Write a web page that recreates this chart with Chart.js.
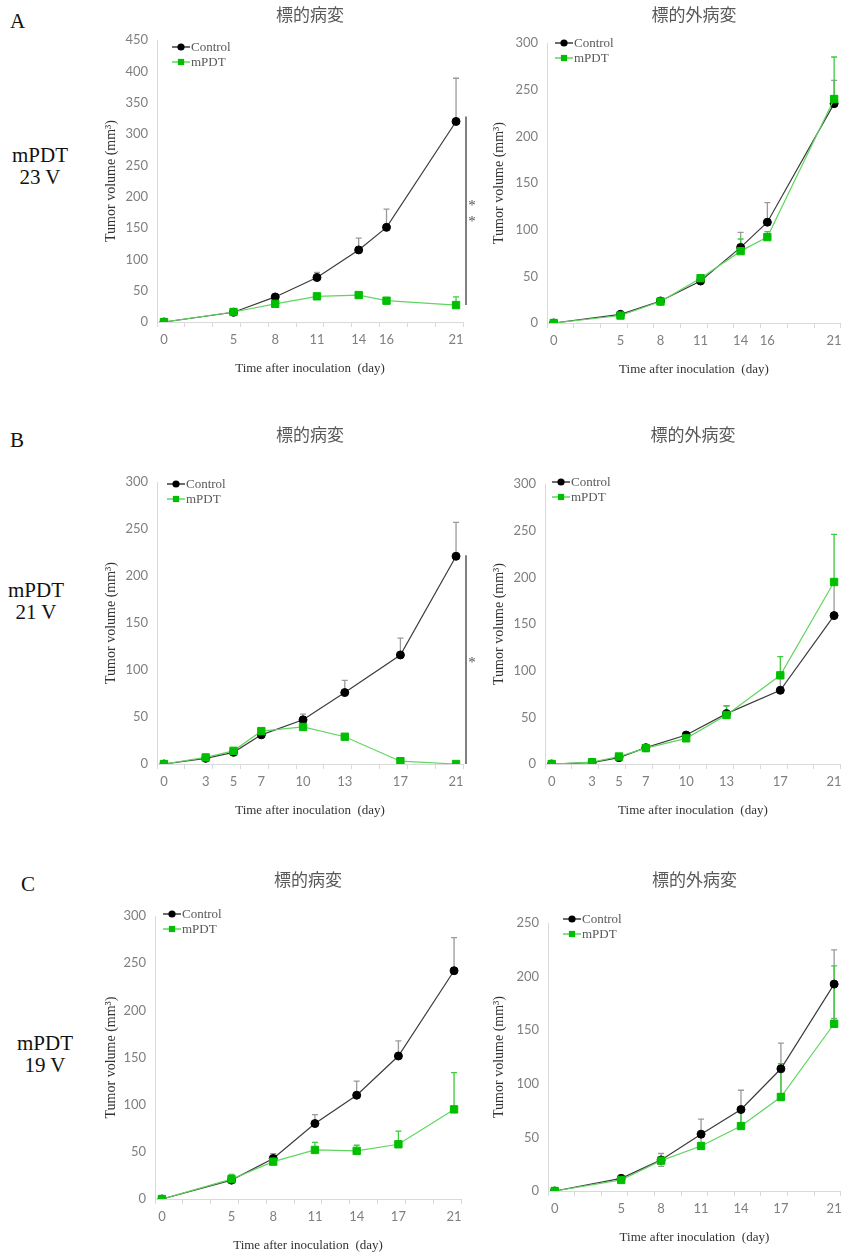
<!DOCTYPE html>
<html>
<head>
<meta charset="utf-8">
<script src="https://cdn.jsdelivr.net/npm/chart.js@4.4.0/dist/chart.umd.min.js"></script>
<style>
  body { margin: 0; width: 847px; height: 1255px; overflow: hidden; background: #fff; position: relative; font-family: "Liberation Serif", serif; }
  .box { position: absolute; }
  .lab { position: absolute; font-size: 21px; color: #111; text-align: center; line-height: 22px; }
</style>
</head>
<body>
<div class="lab" style="left:10px;top:10px;">A</div>
<div class="lab" style="left:4px;top:144px;width:72px;">mPDT<br>23 V</div>
<div class="lab" style="left:10px;top:429px;">B</div>
<div class="lab" style="left:0px;top:579px;width:72px;">mPDT<br>21 V</div>
<div class="lab" style="left:21px;top:873px;">C</div>
<div class="lab" style="left:9px;top:1032px;width:72px;">mPDT<br>19 V</div>

<script>
// x values (day) for each row
const daysA = [0, 5, 8, 11, 14, 16, 21];
const daysB = [0, 3, 5, 7, 10, 13, 17, 21];
const daysC = [0, 5, 8, 11, 14, 17, 21];

// row A, 23 V
const ctrlA1 = [0, 15.5, 40, 71, 115, 151, 320];
const ctrlA1Err = [0, 2, 3, 8, 19, 29, 69];
const mpdtA1 = [0, 16, 29, 41, 43, 34, 27];
const mpdtA1Err = [0, 0, 0, 0, 0, 0, 13];
const ctrlA2 = [0, 9.3, 23.6, 45, 81, 108, 235];
const ctrlA2Err = [0, 1, 1, 2, 16, 21, 25];
const mpdtA2 = [0, 8, 23, 48, 77, 92, 240];
const mpdtA2Err = [0, 1, 1, 2, 13, 6, 45];

// row B, 21 V
const ctrlB1 = [0, 6, 12.4, 31, 47, 76, 116, 221];
const ctrlB1Err = [0, 1, 1, 2, 6, 13, 18, 36];
const mpdtB1 = [0, 7, 14, 35, 39.4, 29, 3, 0];
const mpdtB1Err = [0, 1, 1, 1, 1, 1, 0.5, 0];
const ctrlB2 = [0, 1.5, 6.8, 17.5, 31, 54, 79, 159];
const ctrlB2Err = [0, 0.5, 1, 1.5, 2, 8, 18, 36];
const mpdtB2 = [0, 2, 8, 17, 27.5, 52.5, 95, 195];
const mpdtB2Err = [0, 0.5, 1, 1.5, 2, 10, 20, 51];

// row C, 19 V
const ctrlC1 = [0, 20, 43, 80, 110, 151.6, 242];
const ctrlC1Err = [0, 2, 5, 9.5, 15, 16, 35];
const mpdtC1 = [0, 21, 39.6, 52, 51, 58, 95];
const mpdtC1Err = [0, 5, 1, 8, 6, 14, 39];
const ctrlC2 = [0, 11.8, 29, 53, 76, 114, 193];
const ctrlC2Err = [0, 1.5, 6, 14, 18, 24, 32];
const mpdtC2 = [0, 10.3, 28.3, 42, 60.6, 87.7, 156];
const mpdtC2Err = [0, 1, 2, 3, 18, 31, 54];

// significance brackets (y range) and y axis maxima
const sigA1 = [27, 328];
const sigB1 = [0, 222];
const yMaxes = [450, 300, 300, 300, 300, 250];
const titles = ['標的病変', '標的外病変', '標的病変', '標的外病変', '標的病変', '標的外病変'];

const panels = [
  { days: daysA, ctrl: ctrlA1, ctrlErr: ctrlA1Err, mpdt: mpdtA1, mpdtErr: mpdtA1Err, sig: sigA1, sigText: '**' },
  { days: daysA, ctrl: ctrlA2, ctrlErr: ctrlA2Err, mpdt: mpdtA2, mpdtErr: mpdtA2Err },
  { days: daysB, ctrl: ctrlB1, ctrlErr: ctrlB1Err, mpdt: mpdtB1, mpdtErr: mpdtB1Err, sig: sigB1, sigText: '*' },
  { days: daysB, ctrl: ctrlB2, ctrlErr: ctrlB2Err, mpdt: mpdtB2, mpdtErr: mpdtB2Err },
  { days: daysC, ctrl: ctrlC1, ctrlErr: ctrlC1Err, mpdt: mpdtC1, mpdtErr: mpdtC1Err },
  { days: daysC, ctrl: ctrlC2, ctrlErr: ctrlC2Err, mpdt: mpdtC2, mpdtErr: mpdtC2Err, ctrlBoth: true }
];

// where each plot sits on the page (legX/legY: page position of the legend)
const layout = [
  { left: 90,  top: 0,   width: 390, areaTop: 40,  areaBottom: 322,  axisX: 157, padRight: 17, yPad: 13, legX: 172, legY: 47 },
  { left: 480, top: 0,   width: 367, areaTop: 43,  areaBottom: 323,  axisX: 547, padRight: 2,  yPad: 11, legX: 555, legY: 43 },
  { left: 90,  top: 420, width: 390, areaTop: 482, areaBottom: 764,  axisX: 157, padRight: 17, yPad: 13, legX: 167, legY: 484 },
  { left: 480, top: 420, width: 367, areaTop: 484, areaBottom: 764,  axisX: 545, padRight: 1,  yPad: 11, legX: 552, legY: 482 },
  { left: 90,  top: 865, width: 390, areaTop: 916, areaBottom: 1199, axisX: 155, padRight: 19, yPad: 13, legX: 163, legY: 914 },
  { left: 480, top: 865, width: 367, areaTop: 923, areaBottom: 1191, axisX: 548, padRight: 0,  yPad: 11, legX: 563, legY: 919 }
];

const X_AXIS_H = 63;

const errorBars = {
  id: 'errorBars',
  beforeDatasetsDraw(chart) {
    const { ctx, scales: { x, y } } = chart;
    chart.data.datasets.forEach(ds => {
      if (!ds.errors) return;
      ctx.save();
      ctx.strokeStyle = ds.errColor;
      ctx.lineWidth = 1.3;
      ds.data.forEach((pt, j) => {
        const e = ds.errors[j];
        if (!e) return;
        const px = x.getPixelForValue(pt.x);
        const top = y.getPixelForValue(pt.y + e);
        const bot = y.getPixelForValue(ds.errBoth ? pt.y - e : pt.y);
        ctx.beginPath();
        ctx.moveTo(px, top); ctx.lineTo(px, bot);
        ctx.moveTo(px - 3, top); ctx.lineTo(px + 3, top);
        if (ds.errBoth) { ctx.moveTo(px - 3, bot); ctx.lineTo(px + 3, bot); }
        ctx.stroke();
      });
      ctx.restore();
    });
  }
};

// vertical significance line to the right of the last day, asterisks stacked beside it
const sigBracket = {
  id: 'sigBracket',
  afterDatasetsDraw(chart, args, opts) {
    if (!opts.range) return;
    const { ctx, chartArea, scales: { y } } = chart;
    const bx = chartArea.right + 3;
    const y1 = y.getPixelForValue(opts.range[0]);
    const y2 = y.getPixelForValue(opts.range[1]);
    ctx.save();
    ctx.strokeStyle = '#808080';
    ctx.lineWidth = 2;
    ctx.beginPath(); ctx.moveTo(bx, y1); ctx.lineTo(bx, y2); ctx.stroke();
    ctx.font = '15px "Liberation Serif"';
    ctx.fillStyle = '#555';
    ctx.textAlign = 'center';
    ctx.textBaseline = 'middle';
    const chars = opts.text.split('');
    const mid = (y1 + y2) / 2;
    chars.forEach((ch, k) => {
      ctx.fillText(ch, bx + 6, mid + 3 + (k - (chars.length - 1) / 2) * 16);
    });
    ctx.restore();
  }
};

// legend drawn inside the plot, line + marker + name
const inlineLegend = {
  id: 'inlineLegend',
  afterDraw(chart, args, opts) {
    const { ctx } = chart;
    chart.data.datasets.forEach((ds, k) => {
      const x0 = opts.x, yy = opts.y + k * 15;
      ctx.save();
      ctx.strokeStyle = ds.borderColor;
      ctx.lineWidth = 1.5;
      ctx.beginPath(); ctx.moveTo(x0, yy); ctx.lineTo(x0 + 18, yy); ctx.stroke();
      ctx.fillStyle = ds.pointBackgroundColor;
      ctx.strokeStyle = ds.pointBackgroundColor;
      Chart.helpers.drawPoint(ctx, {
        pointStyle: ds.pointStyle,
        radius: ds.pointStyle === 'rect' ? 4.4 : 3.6,
        rotation: 0, borderWidth: 0
      }, x0 + 9, yy);
      ctx.font = '13px "Liberation Serif"';
      ctx.fillStyle = '#595959';
      ctx.textBaseline = 'middle';
      ctx.fillText(ds.label, x0 + 19, yy + 1);
      ctx.restore();
    });
  }
};

panels.forEach((p, i) => {
  const L = layout[i];
  const height = L.areaBottom + X_AXIS_H - L.top;
  const div = document.createElement('div');
  div.className = 'box';
  div.style.left = L.left + 'px';
  div.style.top = L.top + 'px';
  const cv = document.createElement('canvas');
  cv.width = L.width; cv.height = height;
  cv.style.width = L.width + 'px'; cv.style.height = height + 'px';
  div.appendChild(cv);
  document.body.appendChild(div);

  const titleBlock = L.areaTop - L.top;

  new Chart(cv, {
    type: 'line',
    data: {
      datasets: [
        {
          label: 'Control',
          data: p.days.map((d, j) => ({ x: d, y: p.ctrl[j] })),
          errors: p.ctrlErr, errBoth: !!p.ctrlBoth, errColor: '#9a9a9a',
          borderColor: '#3c3c3c', borderWidth: 1.2,
          pointStyle: 'circle', pointRadius: 4,
          pointBackgroundColor: '#000', pointBorderColor: '#000', pointBorderWidth: 1,
          order: 1
        },
        {
          label: 'mPDT',
          data: p.days.map((d, j) => ({ x: d, y: p.mpdt[j] })),
          errors: p.mpdtErr, errColor: '#3ccc3c',
          borderColor: '#5fd65f', borderWidth: 1.2,
          pointStyle: 'rect', pointRadius: 5.2,
          pointBackgroundColor: '#00bf00', pointBorderColor: '#00bf00', pointBorderWidth: 1,
          order: 0
        }
      ]
    },
    options: {
      responsive: false,
      animation: false,
      layout: { padding: { left: 0, right: L.padRight, top: 0, bottom: 0 } },
      plugins: {
        title: {
          display: true, text: titles[i], fullSize: false,
          font: { family: '"Noto Sans CJK JP"', size: 17, weight: 'normal' },
          color: '#595959',
          padding: { top: 4.8, bottom: titleBlock - 20.4 - 4.8 }
        },
        legend: { display: false },
        tooltip: { enabled: false },
        inlineLegend: { x: L.legX - L.left, y: L.legY - L.top },
        sigBracket: { range: p.sig || null, text: p.sigText || '' }
      },
      scales: {
        x: {
          type: 'linear', min: -0.5, max: 21.5,
          afterBuildTicks(scale) {
            const t = p.days.map(v => ({ value: v }));
            for (let v = -0.5; v <= 21.5; v += 2) t.push({ value: v });
            t.sort((a, b) => a.value - b.value);
            scale.ticks = t;
          },
          afterFit(scale) { scale.height = X_AXIS_H; },
          ticks: {
            autoSkip: false, maxRotation: 0, padding: 5,
            color: '#7f7f7f', font: { family: 'Lato', size: 13 },
            callback: v => Number.isInteger(v) ? String(v) : ''
          },
          grid: {
            drawOnChartArea: false, drawTicks: true, tickLength: 5,
            tickColor: c => (c.tick && Number.isInteger(c.tick.value)) ? 'rgba(0,0,0,0)' : '#d9d9d9'
          },
          border: { color: '#d9d9d9', width: 1 },
          title: {
            display: true, text: 'Time after inoculation  (day)',
            font: { family: '"Liberation Serif"', size: 13 }, color: '#333',
            padding: { top: 0, bottom: 9 }
          }
        },
        y: {
          min: 0, max: yMaxes[i],
          afterFit(scale) { scale.width = L.axisX - L.left; },
          ticks: { stepSize: 50, padding: 9, color: '#7f7f7f', font: { family: 'Lato', size: 13 } },
          grid: { drawOnChartArea: false, drawTicks: false },
          border: { color: '#d9d9d9', width: 1 },
          title: {
            display: true, text: 'Tumor volume (mm³)',
            font: { family: '"Liberation Serif"', size: 14 }, color: '#333',
            padding: { top: L.yPad, bottom: 0 }
          }
        }
      }
    },
    plugins: [errorBars, sigBracket, inlineLegend]
  });
});
</script>
</body>
</html>
